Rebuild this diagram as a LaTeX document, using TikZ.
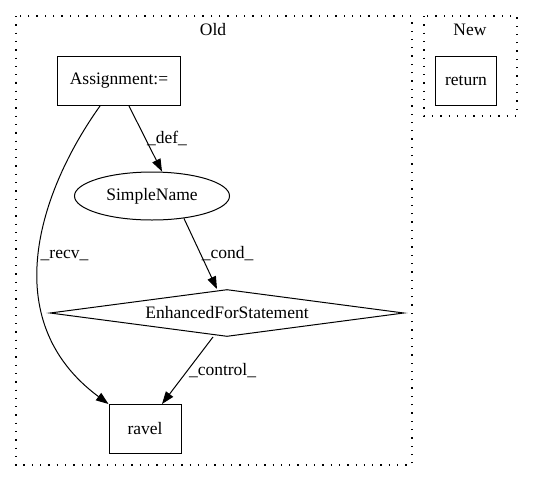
\documentclass[tikz,border=0pt]{standalone}
\usepackage{fontspec}
\setmainfont{Liberation Serif}
\usetikzlibrary{arrows.meta,shapes.geometric}
\begin{document}
\begin{tikzpicture}[x=1pt,y=-1pt,line width=1pt,
		font=\fontsize{17.5pt}{21pt}\selectfont,
		box/.style={draw,rectangle,inner sep=0pt,minimum height=49pt},
		oval/.style={draw,ellipse,inner sep=0pt,minimum width=155pt,minimum height=48pt},
		cond/.style={draw,diamond,aspect=7.5,inner sep=0pt,minimum width=354pt,minimum height=47pt},
		cluster/.style={draw,line width=1.1pt,dash pattern=on 1.3pt off 7pt},
		edge/.style={-{Triangle[length=12.5pt,width=9pt]}},
		lbl/.style={anchor=west,inner sep=1pt}]
			\useasboundingbox(0,0)rectangle(533,480);
			\draw[cluster](16,16)rectangle(412,465);
			\draw[cluster](424,16)rectangle(517,116);
			\node(old)at(213,30){Old};
			\node(new)at(470,30){New};
			\node[box,minimum width=123pt](asg)at(119,81){Assignment:=};
			\node[box,minimum width=61pt](ret)at(466,81){return};
			\node[oval](sn)at(152,196){SimpleName};
			\node[cond](efs)at(227,313){EnhancedForStatement};
			\node[box,minimum width=72pt](ravel)at(145,429){ravel};
			\draw[edge]([xshift=10pt]asg.south)--([xshift=10pt]sn.north)
				node[midway,lbl]{\_def\_};
			\draw[edge](sn.-35)--([xshift=-10pt]efs.north)
				node[midway,lbl]{\_cond\_};
			\draw[edge]([xshift=-14pt]efs.south)--([xshift=17pt]ravel.north)
				node[midway,lbl]{\_control\_};
			\draw[edge]([xshift=-19pt]asg.south)..controls(40,190)and(-5,320)..(ravel.north west)
				node[pos=0.5,lbl]{\_recv\_};
		\end{tikzpicture}
\end{document}
